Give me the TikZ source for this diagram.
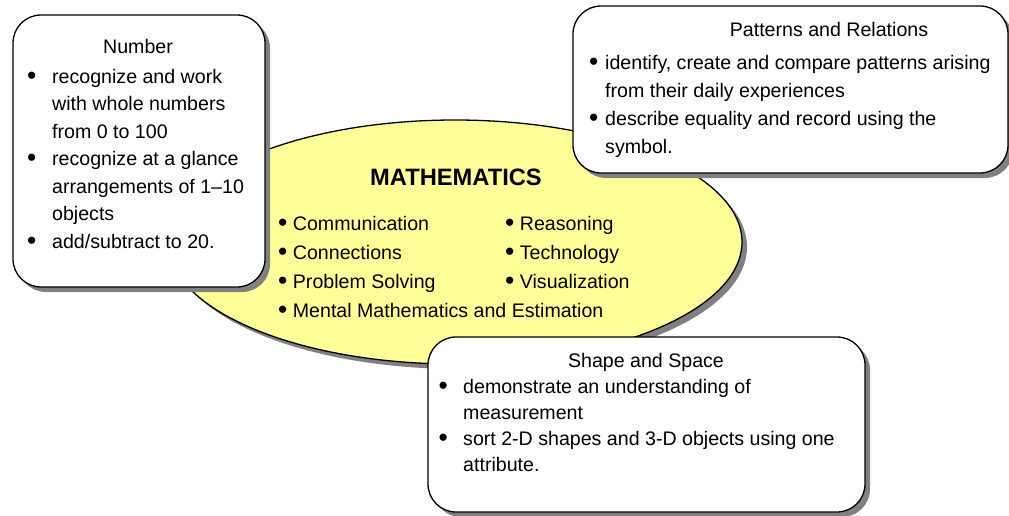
\documentclass[tikz,border=0pt]{standalone}
\usepackage{fontspec}
\setmainfont{Liberation Sans}
\usepackage{xcolor}
\definecolor{Yel}{RGB}{255,255,153}
\definecolor{Shd}{RGB}{128,128,128}
\usepackage{tikz}
\usetikzlibrary{shapes.geometric}
\usetikzlibrary{shadows}
\newcommand{\Bul}{\raisebox{-1pt}{\scalebox{1.35}{\textbullet}}}
\tikzstyle{Box}=[draw=black,fill=white,line width=1.3pt,rounded corners=28pt,
inner sep=0pt,general shadow={fill=Shd,shadow xshift=5pt,shadow yshift=-5pt}]
\tikzstyle{Oval}=[ellipse,draw=black,fill=Yel,line width=1.3pt,inner sep=0pt,
general shadow={fill=Shd,shadow xshift=5pt,shadow yshift=-5pt}]
\tikzstyle{Title}=[anchor=base,inner sep=0pt,font=\fontsize{19.6}{27.5}\selectfont]
\tikzstyle{Items}=[anchor=base west,inner sep=0pt]

\begin{document}
\begin{tikzpicture}[x=1pt,y=1pt]
        \useasboundingbox (0,0) rectangle (1009,-515);
        % centre: the strand
        \node[Oval,minimum width=574pt,minimum height=244pt](math)at(455,-242){};
        \node[Title,font=\fontsize{23.7}{28}\selectfont\bfseries](mtitle)at(456,-185){MATHEMATICS};
        \node[Items,font=\fontsize{19.6}{29}\selectfont](skills)at(278,-230){%
            \begin{tabular}[t]{@{}p{227pt}@{}l@{}}
            \Bul\ Communication & \Bul\ Reasoning\\
            \Bul\ Connections & \Bul\ Technology\\
            \Bul\ Problem Solving & \Bul\ Visualization\\
            \multicolumn{2}{@{}l@{}}{\Bul\ Mental Mathematics and Estimation}
            \end{tabular}};
        % the three boxes
        \node[Box,minimum width=252pt,minimum height=272pt](number)at(139,-151){};
        \node[Title](ntitle)at(138,-53){Number};
        \node[Items,font=\fontsize{19.6}{27.5}\selectfont](nlist)at(27,-83){%
            \begin{tabular}[t]{@{}p{25pt}@{}l@{}}
            \Bul & recognize and work\\
             & with whole numbers\\
             & from 0 to 100\\
            \Bul & recognize at a glance\\
             & arrangements of 1--10\\
             & objects\\
            \Bul & add/subtract to 20.
            \end{tabular}};
        \node[Box,minimum width=435pt,minimum height=167pt](patterns)at(790.5,-89.5){};
        \node[Title](ptitle)at(829,-36){Patterns and Relations};
        \node[Items,font=\fontsize{19.6}{28}\selectfont](plist)at(589,-69){%
            \begin{tabular}[t]{@{}p{16pt}@{}l@{}}
            \Bul & identify, create and compare patterns arising\\
             & from their daily experiences\\
            \Bul & describe equality and record using the\\
             & symbol.
            \end{tabular}};
        \node[Box,minimum width=437pt,minimum height=175pt](shape)at(646.5,-424.5){};
        \node[Title](stitle)at(646,-367){Shape and Space};
        \node[Items,font=\fontsize{19.6}{26.3}\selectfont](slist)at(438.5,-393){%
            \begin{tabular}[t]{@{}p{24.5pt}@{}l@{}}
            \Bul & demonstrate an understanding of\\
             & measurement\\
            \Bul & sort 2-D shapes and 3-D objects using one\\
             & attribute.
            \end{tabular}};
    \end{tikzpicture}
\end{document}
